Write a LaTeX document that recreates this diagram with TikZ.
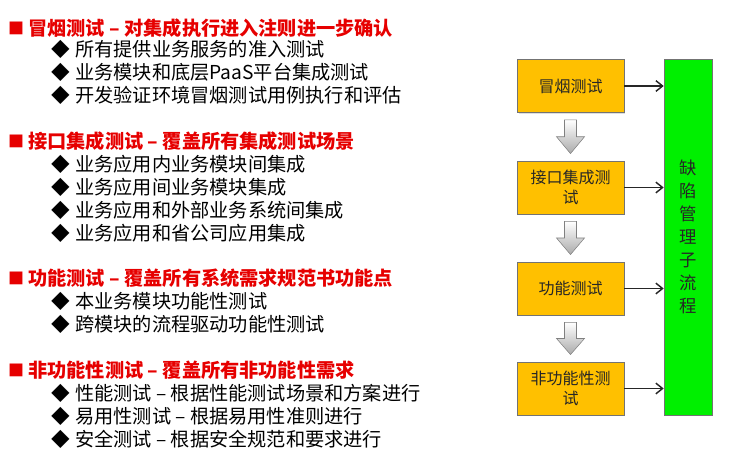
\documentclass[tikz,border=0pt]{standalone}
\usepackage{fontspec}
\setmainfont{Noto Sans CJK SC}
\usepackage{tikz}
\usetikzlibrary{arrows.meta,positioning,calc,shadows}
\definecolor{headred}{RGB}{230,0,0}
\definecolor{boxorange}{RGB}{255,192,0}
\definecolor{flowgreen}{RGB}{0,240,0}
\definecolor{arrowgray}{RGB}{170,170,170}

\begin{document}
\begin{tikzpicture}[x=0.75pt,y=-0.75pt,
    head/.style={anchor=west, inner sep=0pt, text=headred, font=\fontsize{14.4}{17}\selectfont\bfseries},
    item/.style={anchor=west, inner sep=0pt, font=\fontsize{14.4}{17}\selectfont},
    sq/.style={inner sep=0pt, text=headred, font=\fontsize{12}{12}\selectfont},
    dia/.style={inner sep=0pt, font=\fontsize{14}{14}\selectfont},
    stage/.style={draw=black!55, fill=boxorange, text=black!85, align=center,
      minimum width=80pt, minimum height=40pt, inner sep=2pt,
      font=\fontsize{12}{15}\selectfont,
      drop shadow={opacity=0.25, shadow xshift=1pt, shadow yshift=-1pt}},
    defect/.style={draw=black!55, fill=flowgreen, text=black!85, align=center,
      minimum width=36pt, minimum height=267pt, inner sep=0pt,
      font=\fontsize{13}{17.25}\selectfont,
      drop shadow={opacity=0.25, shadow xshift=1pt, shadow yshift=-1pt}},
    blockarrow/.style={draw=gray, top color=white, bottom color=arrowgray},
    feed/.style={-{Straight Barb[length=5pt,width=8pt]}, line width=1.1pt, black!85}]
    \useasboundingbox (0,0) rectangle (729,463);

    % left: test levels
    \node[sq] (s1) at (16,28) {■};
    \node[head] (h1) at (28,28) {冒烟测试 – 对集成执行进入注则进一步确认};
    \node[dia] (d11) at (61,49) {◆};
    \node[item] (t11) at (75,49) {所有提供业务服务的准入测试};
    \node[dia] (d12) at (61,72) {◆};
    \node[item] (t12) at (75,72) {业务模块和底层PaaS平台集成测试};
    \node[dia] (d13) at (61,95) {◆};
    \node[item] (t13) at (75,95) {开发验证环境冒烟测试用例执行和评估};

    \node[sq] (s2) at (16,141) {■};
    \node[head] (h2) at (28,141) {接口集成测试 – 覆盖所有集成测试场景};
    \node[dia] (d21) at (61,164) {◆};
    \node[item] (t21) at (75,164) {业务应用内业务模块间集成};
    \node[dia] (d22) at (61,187) {◆};
    \node[item] (t22) at (75,187) {业务应用间业务模块集成};
    \node[dia] (d23) at (61,210) {◆};
    \node[item] (t23) at (75,210) {业务应用和外部业务系统间集成};
    \node[dia] (d24) at (61,233) {◆};
    \node[item] (t24) at (75,233) {业务应用和省公司应用集成};

    \node[sq] (s3) at (16,278) {■};
    \node[head] (h3) at (28,278) {功能测试 – 覆盖所有系统需求规范书功能点};
    \node[dia] (d31) at (61,301) {◆};
    \node[item] (t31) at (75,301) {本业务模块功能性测试};
    \node[dia] (d32) at (61,324) {◆};
    \node[item] (t32) at (75,324) {跨模块的流程驱动功能性测试};

    \node[sq] (s4) at (16,370) {■};
    \node[head] (h4) at (28,370) {非功能性测试 – 覆盖所有非功能性需求};
    \node[dia] (d41) at (61,393) {◆};
    \node[item] (t41) at (75,393) {性能测试 – 根据性能测试场景和方案进行};
    \node[dia] (d42) at (61,416) {◆};
    \node[item] (t42) at (75,416) {易用性测试 – 根据易用性准则进行};
    \node[dia] (d43) at (61,439) {◆};
    \node[item] (t43) at (75,439) {安全测试 – 根据安全规范和要求进行};

    % right: flow
    \node[stage] (smoke) at (570.5,86) {冒烟测试};
    \node[stage] (iface) at (570.5,187.5) {接口集成测\\试};
    \node[stage] (func) at (570.5,288.5) {功能测试};
    \node[stage] (nonfunc) at (570.5,388.5) {非功能性测\\试};
    \node[defect] (defect) at (688,237) {缺\\陷\\管\\理\\子\\流\\程};

    \foreach \a/\b in {smoke/iface, iface/func, func/nonfunc} {
        \coordinate (t) at ($(\a.south)+(0,7)$);
        \coordinate (h) at ($(\b.north)+(0,-7)$);
        \coordinate (m) at ($(t)!0.5!(h)$);
        \draw[blockarrow] ($(t)+(-6,0)$) -- ($(t)+(6,0)$) -- ($(m)+(6,0)$) -- ($(m)+(14,0)$)
            -- (h) -- ($(m)+(-14,0)$) -- ($(m)+(-6,0)$) -- cycle;
    }

    \foreach \a in {smoke, iface, func, nonfunc}
        \draw[feed] (\a.east) -- (defect.west |- \a.east);
\end{tikzpicture}
\end{document}
